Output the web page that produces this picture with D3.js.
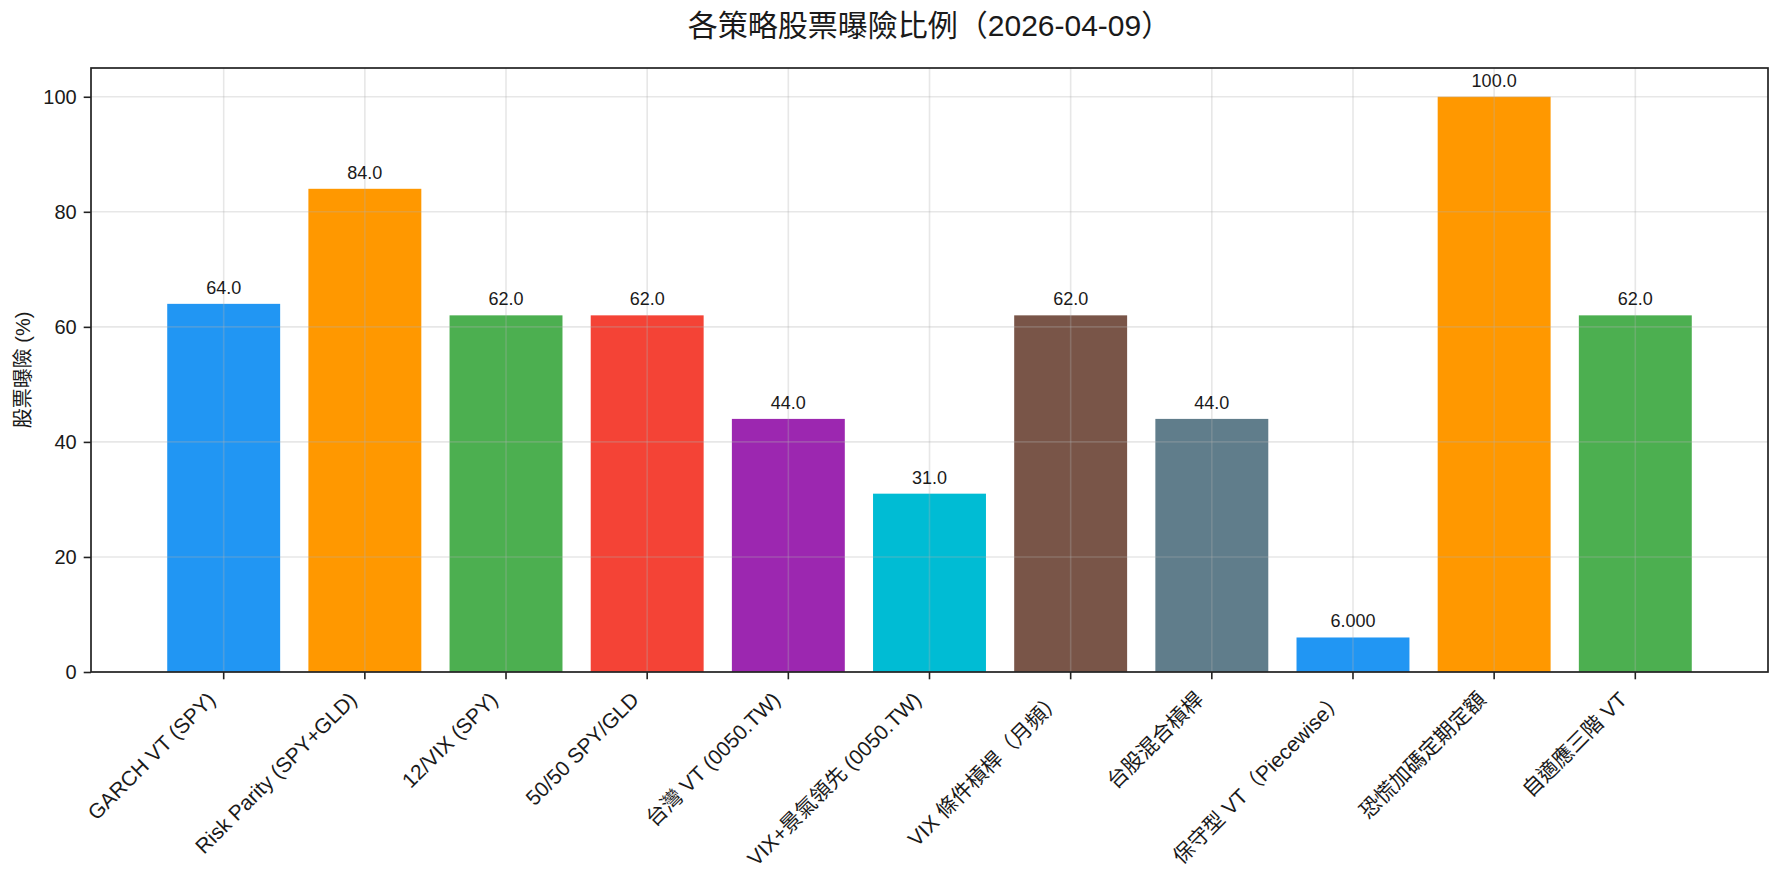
<!DOCTYPE html>
<html>
<head>
<meta charset="utf-8">
<script src="https://cdn.jsdelivr.net/npm/d3@7.9.0/dist/d3.min.js"></script>
<style>
  html, body { margin: 0; padding: 0; background: #fff; }
  svg { display: block; }
  text { font-family: "Liberation Sans", Arial, "Noto Sans CJK TC", sans-serif; fill: #1a1a1a; }
</style>
</head>
<body>
<div id="chart"></div>
<script>
// data
const title = '各策略股票曝險比例（2026-04-09）';
const yLabel = '股票曝險 (%)';
const strategies = [
  'GARCH VT (SPY)', 'Risk Parity (SPY+GLD)', '12/VIX (SPY)', '50/50 SPY/GLD',
  '台灣 VT (0050.TW)', 'VIX+景氣領先 (0050.TW)', 'VIX 條件槓桿（月頻）', '台股混合槓桿',
  '保守型 VT（Piecewise）', '恐慌加碼定期定額', '自適應三階 VT'
];
const exposure = [64, 84, 62, 62, 44, 31, 62, 44, 6, 100, 62];
const barColors = ['#2196F3', '#FF9800', '#4CAF50', '#F44336', '#9C27B0', '#00BCD4',
                   '#795548', '#607D8B', '#2196F3', '#FF9800', '#4CAF50'];
const yTicks = [0, 20, 40, 60, 80, 100];

const W = 1782, H = 884;
const m = { top: 68, right: 14, bottom: 212, left: 91 };

const svg = d3.select('#chart').append('svg').attr('width', W).attr('height', H);

const x = d3.scaleBand().domain(strategies)
  .range([m.left, W - m.right]).paddingInner(0.2).paddingOuter(0.54);
const y = d3.scaleLinear().domain([0, 105]).range([H - m.bottom, m.top]);
const cx = d => x(d) + x.bandwidth() / 2;

// bars
svg.append('g').selectAll('rect').data(strategies).enter().append('rect')
  .attr('x', d => x(d)).attr('width', x.bandwidth())
  .attr('y', (d, i) => y(exposure[i]))
  .attr('height', (d, i) => y(0) - y(exposure[i]))
  .attr('fill', (d, i) => barColors[i]);

// grid sits above the bars, like matplotlib's default
const grid = svg.append('g').attr('stroke', '#b0b0b0').attr('stroke-opacity', 0.3).attr('stroke-width', 1.6);
grid.selectAll('.gx').data(strategies).enter().append('line')
  .attr('x1', cx).attr('x2', cx).attr('y1', m.top).attr('y2', H - m.bottom);
grid.selectAll('.gy').data(yTicks).enter().append('line')
  .attr('x1', m.left).attr('x2', W - m.right).attr('y1', d => y(d)).attr('y2', d => y(d));

// value labels
svg.append('g').selectAll('text').data(strategies).enter().append('text')
  .attr('x', cx).attr('y', (d, i) => y(exposure[i]) - 10)
  .attr('text-anchor', 'middle').attr('font-size', 18)
  .text((d, i) => exposure[i] < 10 ? exposure[i].toFixed(3) : exposure[i].toFixed(1));

// axes
const xAxis = svg.append('g').attr('transform', `translate(0,${H - m.bottom})`)
  .call(d3.axisBottom(x).tickSize(7.3).tickSizeOuter(0));
xAxis.select('.domain').remove();
xAxis.selectAll('.tick line').attr('stroke', '#222').attr('stroke-width', 1.6);
xAxis.selectAll('.tick text')
  .attr('font-size', 21).attr('text-anchor', 'end').attr('dy', null).attr('y', null)
  .attr('transform', 'translate(-7,29) rotate(-45)');

const yAxis = svg.append('g').attr('transform', `translate(${m.left},0)`)
  .call(d3.axisLeft(y).tickValues(yTicks).tickSize(7.3).tickPadding(7));
yAxis.select('.domain').remove();
yAxis.selectAll('.tick line').attr('stroke', '#222').attr('stroke-width', 1.6);
yAxis.selectAll('.tick text').attr('font-size', 20);
svg.selectAll('.tick text').attr('fill', '#1a1a1a').style('font-family', null);
svg.selectAll('g[font-family]').attr('font-family', null);

// frame
svg.append('rect')
  .attr('x', m.left).attr('y', m.top)
  .attr('width', W - m.left - m.right).attr('height', H - m.top - m.bottom)
  .attr('fill', 'none').attr('stroke', '#222').attr('stroke-width', 1.7);

svg.append('text')
  .attr('transform', `translate(23,${(m.top + H - m.bottom) / 2}) rotate(-90)`)
  .attr('text-anchor', 'middle').attr('dy', '0.35em').attr('font-size', 20)
  .text(yLabel);

svg.append('text')
  .attr('x', (m.left + W - m.right) / 2).attr('y', 36)
  .attr('text-anchor', 'middle').attr('font-size', 30)
  .text(title);
</script>
</body>
</html>
